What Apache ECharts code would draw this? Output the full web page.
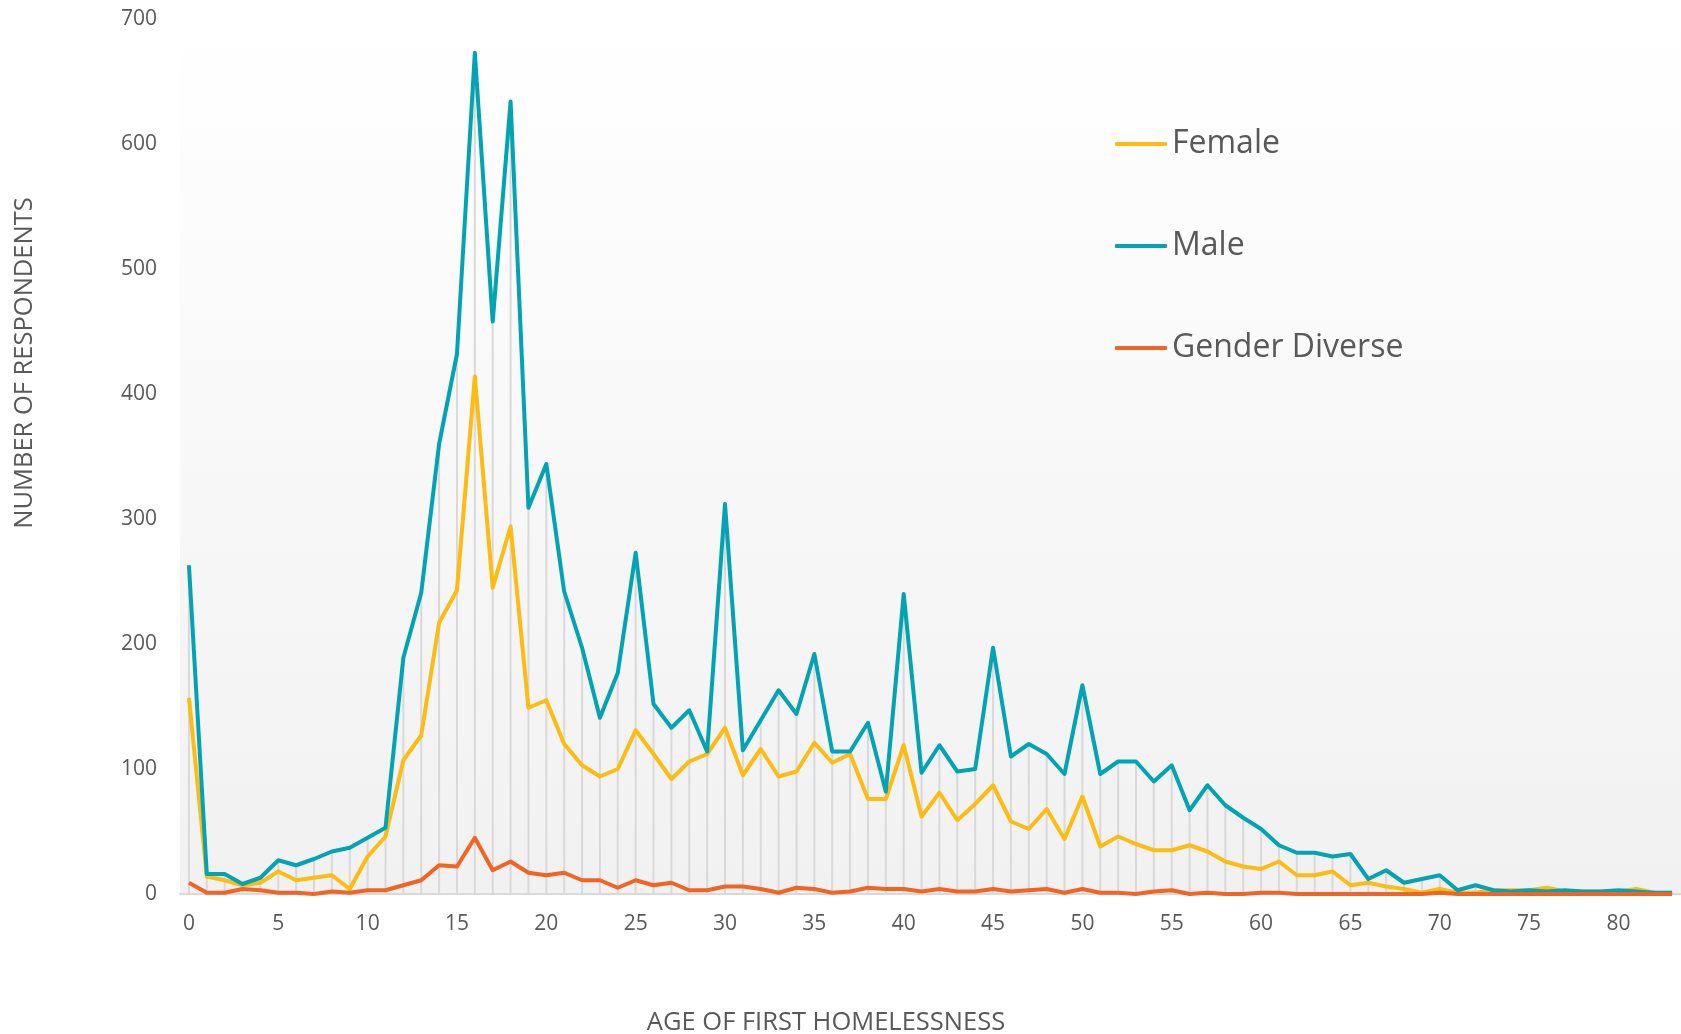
<!DOCTYPE html>
<html>
<head>
<meta charset="utf-8">
<script src="https://cdn.jsdelivr.net/npm/echarts@6/dist/echarts.min.js"></script>
<style>
html,body{margin:0;padding:0;background:#fff;}
#chart{width:1681px;height:1034px;}
</style>
</head>
<body>
<div id="chart"></div>
<script>
var ages = [];
for (var a = 0; a <= 83; a++) ages.push(String(a));

var female = [157,14,11,7,9,18,11,13,15,4,30,46,107,127,217,243,414,245,294,149,155,120,103,94,100,131,112,92,106,112,133,95,116,94,98,121,105,112,76,76,119,62,81,59,72,87,58,52,68,44,78,38,46,40,35,35,39,34,26,22,20,26,15,15,18,7,9,6,4,1,4,1,1,3,3,3,5,2,2,2,2,4,1,1];
var male = [263,16,16,8,13,27,23,28,34,37,45,53,189,241,360,432,673,458,634,309,344,242,197,141,177,273,152,133,147,114,312,115,139,163,144,192,114,114,137,82,240,97,119,98,100,197,110,120,112,96,167,96,106,106,90,103,67,87,71,61,52,39,33,33,30,32,12,19,9,12,15,3,7,3,2,3,2,3,2,2,3,2,1,1];
var diverse = [9,1,1,4,3,1,1,0,2,1,3,3,7,11,23,22,45,19,26,17,15,17,11,11,5,11,7,9,3,3,6,6,4,1,5,4,1,2,5,4,4,2,4,2,2,4,2,3,4,1,4,1,1,0,2,3,0,1,0,0,1,1,0,0,0,0,0,0,0,0,1,0,0,0,0,0,0,0,0,0,0,0,0,0];

var yTicks = [0,100,200,300,400,500,600,700];

// drop lines: from the highest series value down to the axis
var dropLines = ages.map(function (_, i) {
  return Math.max(female[i], male[i], diverse[i]);
});

var FONT = "'Open Sans', sans-serif";
var TXT = '#595959';

var chart = echarts.init(document.getElementById('chart'));
chart.setOption({
  animation: false,
  backgroundColor: '#ffffff',
  grid: {
    left: 180, right: 0, top: 19, bottom: 140,
    show: true, borderWidth: 0,
    backgroundColor: new echarts.graphic.LinearGradient(0, 0, 0, 1, [
      {offset: 0, color: '#ffffff'},
      {offset: 1, color: '#f1f1f1'}
    ])
  },
  legend: {
    orient: 'vertical',
    left: 1110, top: 119,
    itemWidth: 52, itemHeight: 4,
    itemGap: 62,
    icon: 'roundRect',
    data: ['Female', 'Male', 'Gender Diverse'],
    textStyle: {fontFamily: FONT, fontSize: 32, color: TXT, lineHeight: 40}
  },
  xAxis: {
    type: 'category',
    data: ages,
    boundaryGap: true,
    axisLine: {show: true, lineStyle: {color: '#d9d9d9', width: 2}},
    axisTick: {show: false},
    axisLabel: {
      interval: 4, margin: 20,
      fontFamily: FONT, fontSize: 21, color: TXT
    },
    splitLine: {show: false}
  },
  yAxis: {
    type: 'value',
    min: yTicks[0], max: yTicks[yTicks.length - 1], interval: 100,
    axisLine: {show: false},
    axisTick: {show: false},
    splitLine: {show: false},
    axisLabel: {margin: 23, fontFamily: FONT, fontSize: 21, color: TXT}
  },
  graphic: [
    {
      type: 'text',
      x: 25, y: 363, rotation: Math.PI / 2,
      style: {
        text: 'NUMBER OF RESPONDENTS', fontFamily: FONT, fontSize: 25.5,
        fill: TXT, align: 'center', verticalAlign: 'middle'
      }
    },
    {
      type: 'text',
      x: 826, y: 1023,
      style: {
        text: 'AGE OF FIRST HOMELESSNESS', fontFamily: FONT, fontSize: 25.5,
        fill: TXT, align: 'center', verticalAlign: 'middle'
      }
    }
  ],
  series: [
    {
      name: 'drop', type: 'bar', data: dropLines, barWidth: 2,
      itemStyle: {color: '#d9d9d9'}, silent: true, z: 1
    },
    {
      name: 'Female', type: 'line', data: female, symbol: 'none',
      lineStyle: {color: '#FCBC13', width: 4, join: 'round'},
      itemStyle: {color: '#FCBC13'}, z: 3
    },
    {
      name: 'Male', type: 'line', data: male, symbol: 'none',
      lineStyle: {color: '#02A4B3', width: 4, join: 'round'},
      itemStyle: {color: '#02A4B3'}, z: 4
    },
    {
      name: 'Gender Diverse', type: 'line', data: diverse, symbol: 'none',
      lineStyle: {color: '#F16424', width: 4, join: 'round'},
      itemStyle: {color: '#F16424'}, z: 5
    }
  ]
});
</script>
</body>
</html>
